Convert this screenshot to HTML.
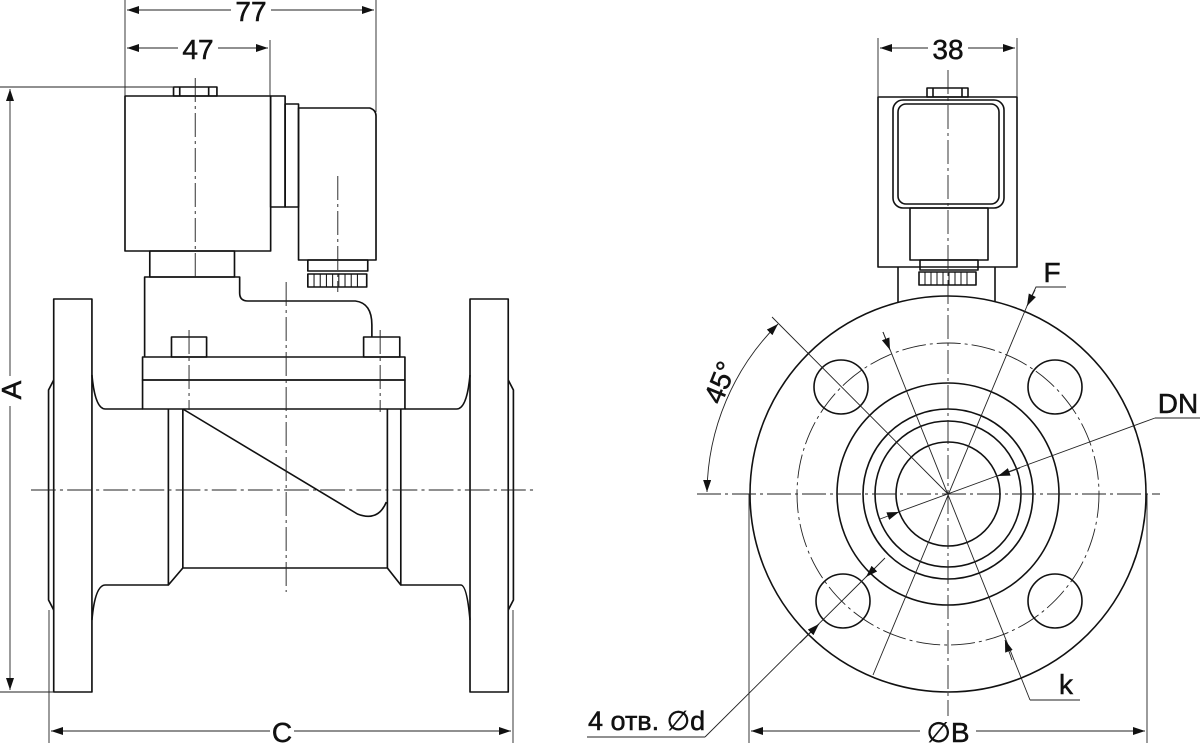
<!DOCTYPE html>
<html><head><meta charset="utf-8"><style>
html,body{margin:0;padding:0;background:#fff;}
svg{display:block;}
text{font-family:"Liberation Sans Narrow","Liberation Sans",sans-serif;fill:#111;stroke:#111;stroke-width:0.5;}
</style></head><body>
<svg width="1200" height="743" viewBox="0 0 1200 743" xmlns="http://www.w3.org/2000/svg">
<defs>
<marker id="ar" viewBox="0 0 12 8" refX="12" refY="4" markerWidth="12" markerHeight="8" markerUnits="userSpaceOnUse" orient="auto-start-reverse"><path d="M0,0 L12,4 L0,8 z" fill="#111"/></marker>
</defs>
<g transform="scale(1.033,1)">
<g fill="none" stroke="#111" stroke-width="1.6" stroke-linejoin="round">
<rect x="121" y="96" width="141" height="155"/>
<rect x="168" y="87" width="42" height="9"/>
<line x1="174" y1="87" x2="174" y2="96"/><line x1="202" y1="87" x2="202" y2="96"/>
<rect x="262" y="96" width="14" height="111"/>
<rect x="276" y="104" width="13" height="103"/>
<path d="M289,108 H358 Q364,110 364,116 V260 H289 Z"/>
<rect x="298" y="260" width="58" height="11"/>
<rect x="298" y="274" width="57" height="13"/>
<g stroke-width="1">
<line x1="304" y1="274" x2="304" y2="287"/><line x1="310" y1="274" x2="310" y2="287"/><line x1="316" y1="274" x2="316" y2="287"/><line x1="322" y1="274" x2="322" y2="287"/><line x1="328" y1="274" x2="328" y2="287"/><line x1="334" y1="274" x2="334" y2="287"/><line x1="340" y1="274" x2="340" y2="287"/><line x1="346" y1="274" x2="346" y2="287"/>
</g>
<rect x="145" y="251" width="82" height="26"/>
<path d="M140,357 V277 H232 V293 Q232,301 240,301 H344 Q360,303 360,325 V337"/>
<rect x="166" y="337" width="34" height="20"/>
<rect x="352" y="337" width="35" height="20"/>
<rect x="138" y="357" width="254" height="23"/>
<rect x="138" y="380" width="254" height="29"/>
<rect x="52" y="299" width="37" height="393"/>
<rect x="455" y="299" width="37" height="393"/>
<path d="M52,380 L47,390 V600 L52,610"/>
<path d="M492,380 L497,390 V600 L492,610"/>
<path d="M89,375 Q92,409 102,409 H138"/>
<path d="M455,375 Q452,409 442,409 H392"/>
<path d="M89,620 Q92,585 102,585 H163"/>
<path d="M455,620 Q452,585 446,585 H388"/>
<path d="M163,409 V585 L177,568 H375 L388,585 V409"/>
<line x1="177" y1="409" x2="177" y2="568"/>
<line x1="375" y1="409" x2="375" y2="568"/>
<path d="M177,409 L346,514 Q366,522 374,502"/>
</g>
<g fill="none" stroke="#222" stroke-width="0.9" stroke-dasharray="24,4,3,4">
<line x1="189" y1="78" x2="189" y2="277"/>
<line x1="327" y1="176" x2="327" y2="292"/>
<line x1="277" y1="282" x2="277" y2="592"/>
<line x1="183" y1="330" x2="183" y2="410"/>
<line x1="368" y1="330" x2="368" y2="412"/>
<line x1="30" y1="490" x2="520" y2="490"/>
</g>
</g>
<g fill="none" stroke="#111" stroke-width="1.6" stroke-linejoin="round">
<rect x="878" y="97" width="139" height="170"/>
<rect x="927" y="88" width="41" height="9"/>
<line x1="933" y1="88" x2="933" y2="97"/><line x1="962" y1="88" x2="962" y2="97"/>
<rect x="893" y="100" width="111" height="108" rx="10"/>
<rect x="898" y="104" width="101" height="100" rx="8"/>
<rect x="910" y="208" width="78" height="52"/>
<rect x="920" y="260" width="58" height="10"/>
<rect x="919" y="272" width="57" height="13"/>
<g stroke-width="1">
<line x1="925" y1="272" x2="925" y2="285"/><line x1="931" y1="272" x2="931" y2="285"/><line x1="937" y1="272" x2="937" y2="285"/><line x1="943" y1="272" x2="943" y2="285"/><line x1="949" y1="272" x2="949" y2="285"/><line x1="955" y1="272" x2="955" y2="285"/><line x1="961" y1="272" x2="961" y2="285"/><line x1="967" y1="272" x2="967" y2="285"/>
</g>
<line x1="898" y1="267" x2="898" y2="302"/>
<line x1="995" y1="267" x2="995" y2="302"/>
<circle cx="948" cy="494" r="198"/>
<circle cx="948" cy="494" r="111"/>
<circle cx="948" cy="494" r="85"/>
<circle cx="948" cy="494" r="73"/>
<circle cx="948" cy="494" r="52"/>
<circle cx="841" cy="387" r="27"/>
<circle cx="1055" cy="387" r="27"/>
<circle cx="843" cy="601" r="27"/>
<circle cx="1055" cy="601" r="27"/>
</g>
<g fill="none" stroke="#222" stroke-width="0.9" stroke-dasharray="24,4,3,4">
<line x1="948" y1="70" x2="948" y2="728"/>
<line x1="697" y1="494" x2="1160" y2="494"/>
<circle cx="948" cy="494" r="151"/>
</g>
<g fill="none" stroke="#222" stroke-width="0.9">
<line x1="0" y1="87" x2="174" y2="87"/>
<line x1="0" y1="692" x2="54" y2="692"/>
<line x1="10" y1="89" x2="10" y2="690" marker-start="url(#ar)" marker-end="url(#ar)"/>
<line x1="49" y1="610" x2="49" y2="743"/>
<line x1="513" y1="610" x2="513" y2="743"/>
<line x1="51" y1="731" x2="511" y2="731" marker-start="url(#ar)" marker-end="url(#ar)"/>
<line x1="125" y1="0" x2="125" y2="96"/>
<line x1="376" y1="0" x2="376" y2="112"/>
<line x1="270" y1="40" x2="270" y2="96"/>
<line x1="127" y1="10" x2="374" y2="10" marker-start="url(#ar)" marker-end="url(#ar)"/>
<line x1="127" y1="48" x2="268" y2="48" marker-start="url(#ar)" marker-end="url(#ar)"/>
<line x1="878" y1="38" x2="878" y2="97"/>
<line x1="1017" y1="38" x2="1017" y2="97"/>
<line x1="880" y1="48" x2="1015" y2="48" marker-start="url(#ar)" marker-end="url(#ar)"/>
<line x1="749" y1="494" x2="749" y2="743"/>
<line x1="1147" y1="494" x2="1147" y2="743"/>
<line x1="751" y1="731" x2="1145" y2="731" marker-start="url(#ar)" marker-end="url(#ar)"/>
<line x1="772" y1="317" x2="948" y2="494"/>
<path d="M778,324 A241,241 0 0 0 707,492" marker-start="url(#ar)" marker-end="url(#ar)"/>
<line x1="873" y1="675" x2="1027" y2="306"/>
<polyline points="1027,306 1036,287 1066,287"/>
<line x1="1035" y1="290" x2="1027" y2="306" marker-end="url(#ar)"/>
<line x1="893" y1="514" x2="1155" y2="418"/>
<line x1="1155" y1="418" x2="1200" y2="418"/>
<line x1="1020" y1="468" x2="998" y2="476" marker-end="url(#ar)"/>
<line x1="880" y1="519" x2="899" y2="512" marker-end="url(#ar)"/>
<line x1="883" y1="332" x2="1030" y2="700"/>
<line x1="1030" y1="700" x2="1080" y2="700"/>
<line x1="883" y1="332" x2="890" y2="350" marker-end="url(#ar)"/>
<line x1="1012" y1="660" x2="1005" y2="640" marker-end="url(#ar)"/>
<line x1="875" y1="568" x2="705" y2="737"/>
<line x1="705" y1="737" x2="587" y2="737"/>
<line x1="885" y1="558" x2="866" y2="577" marker-end="url(#ar)"/>
<line x1="800" y1="643" x2="819" y2="624" marker-end="url(#ar)"/>
</g>
<g font-size="28">
<rect x="231" y="0" width="40" height="22" fill="#fff" stroke="none"/>
<text x="251" y="21" text-anchor="middle">77</text>
<rect x="178" y="34" width="40" height="28" fill="#fff" stroke="none"/>
<text x="198" y="59" text-anchor="middle">47</text>
<rect x="928" y="34" width="40" height="28" fill="#fff" stroke="none"/>
<text x="948" y="59" text-anchor="middle">38</text>
<rect x="270" y="716" width="24" height="27" fill="#fff" stroke="none"/>
<text x="282" y="742" text-anchor="middle">C</text>
<rect x="920" y="716" width="56" height="27" fill="#fff" stroke="none"/>
<text x="948" y="742" text-anchor="middle">∅B</text>
<rect x="0" y="376" width="20" height="30" fill="#fff" stroke="none"/>
<text x="0" y="0" text-anchor="middle" transform="translate(21,390) rotate(-90)">A</text>
<text x="1052" y="282" text-anchor="middle">F</text>
<text x="1178" y="413" text-anchor="middle">DN</text>
<text x="1066" y="694" text-anchor="middle">k</text>
<text x="0" y="0" text-anchor="middle" transform="translate(729,386) rotate(-68)">45°</text>
<text x="588" y="730" font-size="27">4 отв. ∅d</text>
</g>
</svg>
</body></html>
